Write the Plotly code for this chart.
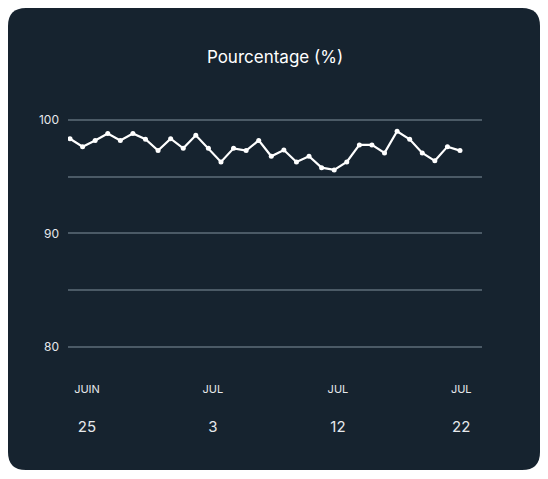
import plotly.graph_objects as go

# daily percentages
values = [98.35, 97.65, 98.2, 98.8, 98.2, 98.8, 98.3, 97.3, 98.35, 97.5, 98.65,
          97.5, 96.3, 97.5, 97.3, 98.2, 96.8, 97.35, 96.3, 96.8, 95.8, 95.6,
          96.3, 97.8, 97.8, 97.1, 99.0, 98.3, 97.1, 96.4, 97.65, 97.3]
days = list(range(len(values)))

tick_pos = [1.35, 11.35, 21.3, 31.1]
tick_month = ["JUIN", "JUL", "JUL", "JUL"]
tick_day = ["25", "3", "12", "22"]
y_ticks = [80, 85, 90, 95, 100]
y_text = ["80", "", "90", "", "100"]

# page body adds an 8px offset, so lay out 8px up/left
W, H = 548, 479
OFF = 8
L, T = 68 - OFF, 100 - OFF
pw, ph = 414, 265
R, B = W - L - pw, H - T - ph


def px(x):
	return (x - OFF - L) / pw


def py(y):
	return (H - B - (y - OFF)) / ph


# rounded card behind everything
x0, x1, y0, y1 = px(8), px(540), py(470), py(8)
rx, ry = 18 / pw, 18 / ph
card = (f"M {x0+rx},{y0} L {x1-rx},{y0} Q {x1},{y0} {x1},{y0+ry} "
        f"L {x1},{y1-ry} Q {x1},{y1} {x1-rx},{y1} L {x0+rx},{y1} "
        f"Q {x0},{y1} {x0},{y1-ry} L {x0},{y0+ry} Q {x0},{y0} {x0+rx},{y0} Z")

ticktext = [f"<span style='font-size:11px'>{m}</span><br><br>{d}" for m, d in zip(tick_month, tick_day)]

fig = go.Figure(go.Scatter(
	x=days, y=values, mode="lines+markers",
	line=dict(color="white", width=2.2),
	marker=dict(color="white", size=5),
	hoverinfo="skip"))

fig.update_layout(
	width=W, height=H,
	margin=dict(l=L, r=R, t=T, b=B),
	paper_bgcolor="white", plot_bgcolor="rgba(0,0,0,0)",
	font=dict(family="Inter, Roboto, sans-serif", color="#e6e9ec", size=15),
	showlegend=False,
	title=dict(text="Pourcentage (%)", x=0.5, xref="paper", y=1 - (57 - OFF) / H, yanchor="middle",
	           font=dict(size=17, color="white")),
	shapes=[dict(type="path", path=card, xref="paper", yref="paper",
	             fillcolor="#16232f", line=dict(width=0), layer="below")],
	xaxis=dict(range=[-0.16, 32.75], showgrid=False, zeroline=False, showline=False,
	           tickvals=tick_pos, ticktext=ticktext, ticks="", ticklabelstandoff=12),
	yaxis=dict(range=[78.41, 101.76], tickvals=y_ticks, ticktext=y_text,
	           showgrid=True, gridcolor="#4b5a66", gridwidth=1.5, zeroline=False,
	           showline=False, ticks="", tickfont=dict(size=12), ticklabelstandoff=8),
)

fig.write_html("out.html")
